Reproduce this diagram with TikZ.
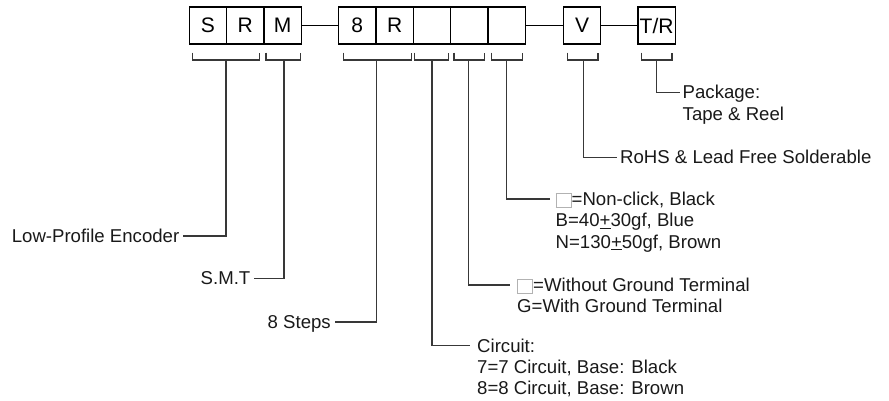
\documentclass[tikz,border=0pt]{standalone}
\usepackage{fontspec}
\setmainfont{Liberation Sans}
\usetikzlibrary{calc}
\newcommand\graysq{\raisebox{-1.2pt}{{\color{gray!60}\fboxrule=0.8pt\fboxsep=0pt\fbox{\rule{0pt}{13.4pt}\hspace{14.4pt}}}}}
\newcommand\mkbrk[4]{\draw[lead] (#1,52.7) -- (#1,60) -- (#2,60) -- (#2,52.7); \coordinate (#4) at (#3,60);}
\begin{document}
\begin{tikzpicture}[x=1pt,y=-1pt,
  cell/.style={draw=black,line width=1.1pt,minimum width=37.3pt,minimum height=37pt,inner sep=0pt,font=\fontsize{21}{21}\selectfont},
  lead/.style={draw=black!78,line width=1.2pt},
  lbl/.style={inner sep=0pt,font=\fontsize{18.6}{21.2}\selectfont,align=left,text=black!90}]
\useasboundingbox (0,0) rectangle (889,401);
% code boxes
\node[cell] (cs) at (207.9,25.5) {S};
\node[cell] (cr) at (245.2,25.5) {R};
\node[cell] (cm) at (282.6,25.5) {M};
\node[cell] (c8) at (357.3,25.5) {8};
\node[cell] (cr2) at (394.6,25.5) {R};
\node[cell] (cb1) at (432.0,25.5) {};
\node[cell] (cb2) at (469.3,25.5) {};
\node[cell] (cb3) at (506.6,25.5) {};
\node[cell] (cv) at (582.0,25.5) {V};
\node[cell] (ctr) at (656.6,25.5) {T/R};
\draw[line width=1.1pt] (cm.east) -- (c8.west);
\draw[line width=1.1pt] (cb3.east) -- (cv.west);
\draw[line width=1.1pt] (cv.east) -- (ctr.west);
% brackets
\mkbrk{192.7}{259.3}{226}{kSR}
\mkbrk{266}{300.7}{284}{kM}
\mkbrk{343.3}{411.5}{376.7}{k8R}
\mkbrk{414.5}{448.7}{432}{kB1}
\mkbrk{454}{484.7}{468.7}{kB2}
\mkbrk{491.3}{522.7}{506.7}{kB3}
\mkbrk{567.3}{598}{583.3}{kV}
\mkbrk{641.3}{672}{656.7}{kTR}
% leader ends
\coordinate (eLPE) at (182.7,236);
\coordinate (eSMT) at (254,278.3);
\coordinate (eST) at (335.3,322);
\coordinate (eCI) at (470,345.7);
\coordinate (eGN) at (510,285);
\coordinate (eNC) at (550,199);
\coordinate (eRO) at (617.3,157.3);
\coordinate (ePK) at (680,92.3);
% labels (base = baseline of the last line)
\node[lbl,anchor=base east] (tLPE) at (179.5,242.6) {Low-Profile Encoder};
\node[lbl,anchor=base east] (tSMT) at (250.5,284.9) {S.M.T};
\node[lbl,anchor=base east] (tST) at (331,328.6) {8 Steps};
\node[lbl,anchor=base west] (tCI) at (477,394.7) {Circuit:\\7=7 Circuit, Base: Black\\8=8 Circuit, Base: Brown};
\node[lbl,anchor=base west] (tGN) at (517,312.8) {\graysq=Without Ground Terminal\\G=With Ground Terminal};
\node[lbl,anchor=base west] (tNC) at (555.5,248.0) {\graysq=Non-click, Black\\B=40\underline{+}30gf, Blue\\N=130\underline{+}50gf, Brown};
\node[lbl,anchor=base west] (tRO) at (620,163.9) {RoHS \& Lead Free Solderable};
\node[lbl,anchor=base west] (tPK) at (682.5,120.1) {Package:\\Tape \& Reel};
% connectors
\draw[lead] (kSR) |- (eLPE);
\draw[lead] (kM) |- (eSMT);
\draw[lead] (k8R) |- (eST);
\draw[lead] (kB1) |- (eCI);
\draw[lead] (kB2) |- (eGN);
\draw[lead] (kB3) |- (eNC);
\draw[lead] (kV) |- (eRO);
\draw[lead] (kTR) |- (ePK);
\end{tikzpicture}
\end{document}
